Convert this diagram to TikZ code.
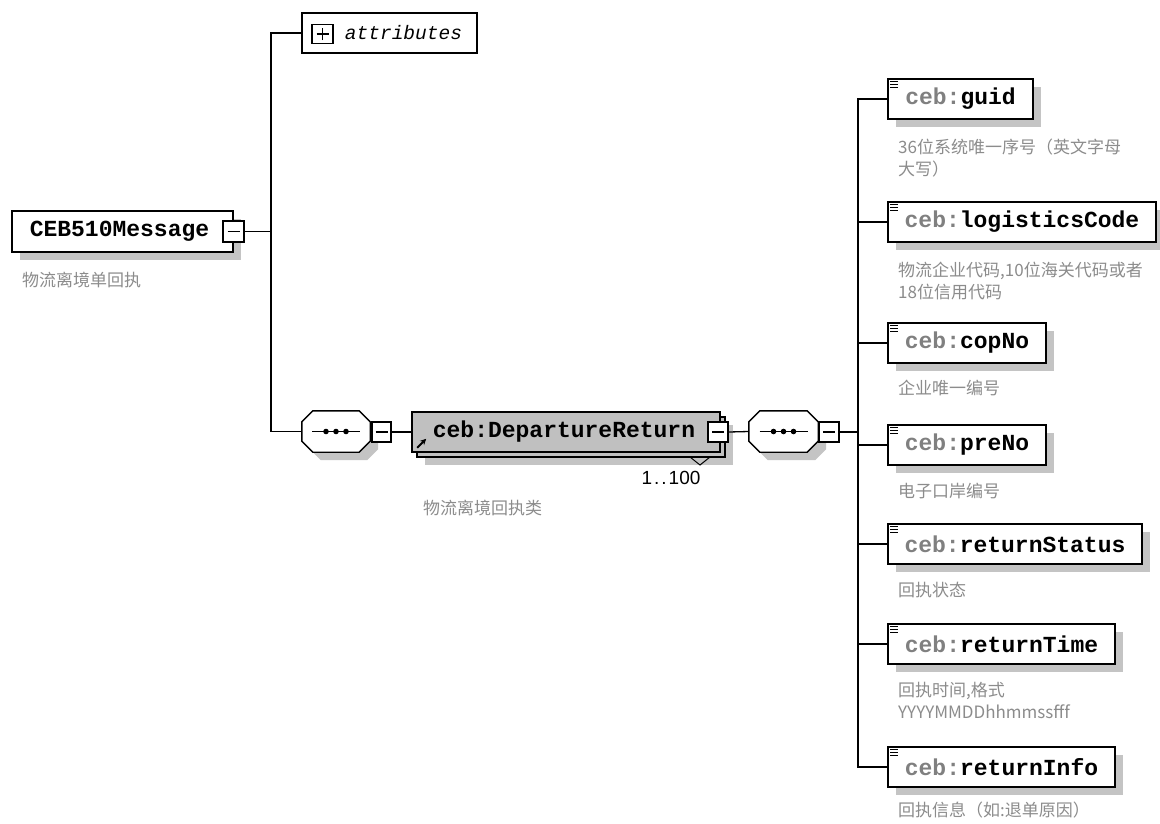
\documentclass[tikz,border=0pt]{standalone}
\usepackage{fontspec}
\setmainfont{Liberation Sans}
\newfontfamily\monof{Liberation Mono}
\newfontfamily\cjk{Noto Sans CJK SC}
\usetikzlibrary{shadows,arrows.meta}
\definecolor{boxgray}{HTML}{C0C0C0}
\definecolor{shadowgray}{HTML}{C4C4C4}
\definecolor{notegray}{HTML}{8C8C8C}
\definecolor{prefgray}{HTML}{808080}
\newcommand\elemicon[1]{\foreach \dy in {3.5,6.5,9.5} \draw[line width=1.1pt] ([xshift=3pt,yshift=-\dy pt]#1.north west) -- ++(8,0);}
\newcommand\seqdots[1]{%
  \draw[line width=1.2pt] ([xshift=-24pt]#1.center) -- ([xshift=24pt]#1.center);
  \foreach \d in {-10,0,10} \fill ([xshift=\d pt]#1.center) circle (2.8);}
% octagon drawn on the frame of a named node: #1 node, #2 dx, #3 dy, #4 path options
\newcommand\octo[4]{\path[#4] ([xshift=#2+11pt,yshift=#3]#1.north west) -- ([xshift=#2-11pt,yshift=#3]#1.north east)
  -- ([xshift=#2,yshift=#3-11pt]#1.north east) -- ([xshift=#2,yshift=#3+11pt]#1.south east)
  -- ([xshift=#2-11pt,yshift=#3]#1.south east) -- ([xshift=#2+11pt,yshift=#3]#1.south west)
  -- ([xshift=#2,yshift=#3+11pt]#1.south west) -- ([xshift=#2,yshift=#3-11pt]#1.north west) -- cycle;}
\tikzset{
  myshadow/.style={drop shadow={shadow xshift=8pt, shadow yshift=-8pt, fill=shadowgray, opacity=1}},
  elembox/.style={rectangle, draw=black, line width=1.6pt, fill=white, minimum height=40pt, inner sep=0pt,
    font=\monof\bfseries\fontsize{23}{23}\selectfont, myshadow},
  seqframe/.style={rectangle, minimum width=68pt, minimum height=41pt, inner sep=0pt},
  minusbox/.style={rectangle, draw=black, line width=1.3pt, fill=white, minimum width=20pt, minimum height=20pt, inner sep=0pt,
    path picture={\draw[line width=1.1pt] ([xshift=-6pt]path picture bounding box.center) -- ([xshift=6pt]path picture bounding box.center);}},
  plusbox/.style={rectangle, draw=black, line width=1.3pt, fill=white, minimum width=21pt, minimum height=19pt, inner sep=0pt,
    path picture={\draw[line width=1.1pt] ([xshift=-6pt]path picture bounding box.center) -- ([xshift=6pt]path picture bounding box.center)
      ([yshift=-6pt]path picture bounding box.center) -- ([yshift=6pt]path picture bounding box.center);}},
  note/.style={anchor=north west, inner sep=0pt, align=left, text=notegray, font=\cjk\fontsize{17}{22}\selectfont},
  conn/.style={draw=black, line width=1.3pt},
}
\begin{document}
\begin{tikzpicture}[x=1pt,y=-1pt]
\useasboundingbox (0,0) rectangle (1160,823);
\fill[white] (0,0) rectangle (1160,823);

% root element
\node[elembox, minimum width=221pt, minimum height=41pt] (msg) at (122.5,231.5) {\hspace*{-6pt}CEB510Message};
\node[minusbox, minimum width=21pt, minimum height=21pt] (msgm) at (233.5,231.5) {};
\node[note] (msgnote) at (22,271.5) {物流离境单回执};
\coordinate (t1) at (271,231.5);

% attributes
\node[rectangle, draw=black, line width=1.6pt, fill=white, minimum width=175pt, minimum height=40pt, inner sep=0pt] (attr) at (389.5,33) {};
\node[plusbox] (attrp) at (322.5,34) {};
\node[inner sep=0pt, font=\monof\itshape\fontsize{19.5}{20}\selectfont] (attrt) at (403.5,33) {attributes};

% first sequence
\node[seqframe] (seq1) at (336,431.5) {};
\octo{seq1}{8pt}{-8pt}{fill=shadowgray}
\octo{seq1}{0pt}{0pt}{draw=black, line width=1.4pt, fill=white}
\seqdots{seq1}
\node[minusbox, minimum width=19pt] (seq1m) at (381.5,432) {};

% DepartureReturn
\node[rectangle, draw=black, line width=1.6pt, fill=boxgray, minimum width=308pt, minimum height=40pt, inner sep=0pt, myshadow] (depback) at (571,437) {};
\node[rectangle, draw=black, line width=1.6pt, fill=boxgray, minimum width=308pt, minimum height=40pt, inner sep=0pt,
  font=\monof\bfseries\fontsize{23}{23}\selectfont] (dep) at (566,432) {\hspace*{-4pt}ceb:DepartureReturn};
\node[minusbox] (depm) at (718,432) {};
\draw[line width=1.8pt, -{Stealth[length=6pt,width=6pt]}] ([xshift=6pt,yshift=5pt]dep.south west) -- ++(9,-9);
\draw[line width=1pt] (690,457) -- (700,465) -- (710,457);
\node[inner sep=0pt, font=\fontsize{19}{19}\selectfont] (occ) at (671,478) {1\kern2pt.\kern2pt.\kern2pt100};
\node[note] (depnote) at (423,499.5) {物流离境回执类};

% second sequence
\node[seqframe, minimum width=69pt] (seq2) at (783.5,431.5) {};
\octo{seq2}{8pt}{-8pt}{fill=shadowgray}
\octo{seq2}{0pt}{0pt}{draw=black, line width=1.4pt, fill=white}
\seqdots{seq2}
\node[minusbox, minimum width=20pt] (seq2m) at (829,432) {};
\coordinate (t2) at (858,432);

% children
\node[elembox, minimum width=145pt] (guid) at (960.5,99) {\textcolor{prefgray}{ceb:}guid};
\node[elembox, minimum width=268pt] (logi) at (1022,222) {\textcolor{prefgray}{ceb:}logisticsCode};
\node[elembox, minimum width=158pt] (cop) at (967,343) {\textcolor{prefgray}{ceb:}copNo};
\node[elembox, minimum width=158pt] (pre) at (967,445) {\textcolor{prefgray}{ceb:}preNo};
\node[elembox, minimum width=254pt] (rst) at (1015,544) {\textcolor{prefgray}{ceb:}returnStatus};
\node[elembox, minimum width=227pt] (rtime) at (1001.5,644) {\textcolor{prefgray}{ceb:}returnTime};
\node[elembox, minimum width=227pt] (rinfo) at (1001.5,767) {\textcolor{prefgray}{ceb:}returnInfo};
\foreach \n in {guid,logi,cop,pre,rst,rtime,rinfo} {\elemicon{\n}}

\node[note] (guidnote) at (898,138.5) {36位系统唯一序号（英文字母\\大写）};
\node[note] (loginote) at (898,261.5) {物流企业代码,10位海关代码或者\\18位信用代码};
\node[note] (copnote) at (898,379.5) {企业唯一编号};
\node[note] (prenote) at (898,482.5) {电子口岸编号};
\node[note] (rstnote) at (898,581.5) {回执状态};
\node[note] (rtimenote) at (898,681.5) {回执时间,格式\\YYYYMMDDhhmmssfff};
\node[note] (rinfonote) at (898,801.5) {回执信息（如:退单原因）};

% connectors
\draw[conn] (msgm.east) -- (t1);
\draw[conn] (t1) |- (attr.west);
\draw[conn] (t1) |- (seq1.west);
\draw[conn] (seq1m.east) -- (dep.west);
\draw[conn] (depm.east) -- (seq2.west);
\draw[conn] (seq2m.east) -- (t2);
\foreach \n in {guid,logi,cop,pre,rst,rtime,rinfo} {\draw[conn] (t2) |- (\n.west);}
\end{tikzpicture}
\end{document}
